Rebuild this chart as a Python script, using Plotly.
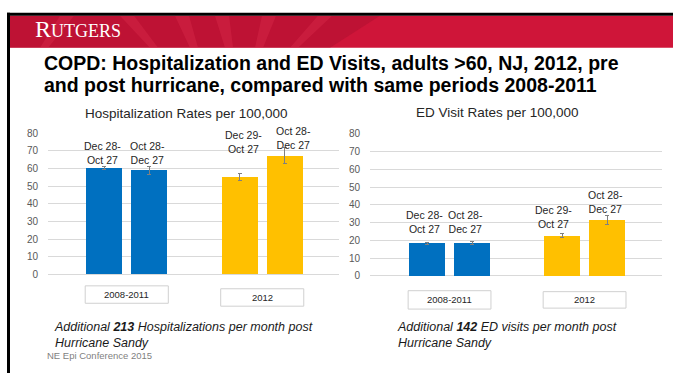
import plotly.graph_objects as go

# ---- data -------------------------------------------------------------
groups = ["2008-2011", "2012"]
period_labels = [["Dec 28-<br>Oct 27", "Oct 28-<br>Dec 27"],
                 ["Dec 29-<br>Oct 27", "Oct 28-<br>Dec 27"]]

hosp_rates = [60.2, 58.9, 55.1, 67.2]
hosp_err = [1.0, 2.3, 2.1, 4.6]
ed_rates = [18.4, 18.4, 22.7, 31.5]
ed_err = [0.5, 1.0, 1.0, 2.6]

y_ticks = [0, 10, 20, 30, 40, 50, 60, 70, 80]

title_lines = ["COPD: Hospitalization and ED Visits, adults &gt;60, NJ, 2012, pre",
               "and post hurricane, compared with same periods 2008-2011"]

# ---- style / layout constants ----------------------------------------
W, H = 673, 379
BLUE, GOLD = "#0070C0", "#FFC000"
SCARLET = "#CF1539"
FONT = "Arial, Liberation Sans, sans-serif"
bar_colors = [BLUE, BLUE, GOLD, GOLD]

# slot index of each bar: two bars per group, one empty slot between groups
slots = [g * 3 + p for g in range(2) for p in range(2)]


def px(x):
    return x / W


def py(y):
    return 1 - y / H


fig = go.Figure()

panels = [
    dict(vals=hosp_rates, err=hosp_err, xa="x", ya="y",
         title="Hospitalization Rates per 100,000",
         xdom=(48, 339), ydom=(277, 131.5), xr=(-1.244, 5.2),
         label_y=[68.6, 68.6, 74.9, 77.1], label_dx=[-0.04, -0.03, 0.08, 0.2],
         box_y=[(289, 307), (292, 310)], title_y=110.5, title_x=186),
    dict(vals=ed_rates, err=ed_err, xa="x2", ya="y2",
         title="ED Visit Rates per 100,000",
         xdom=(370, 662), ydom=(278.7, 132), xr=(-1.267, 5.22),
         label_y=[30.6, 30.6, 33.1, 41.5], label_dx=[-0.05, -0.15, -0.19, -0.04],
         box_y=[(294, 313), (295, 312)], title_y=109.5, title_x=497),
]

shapes = []
annotations = []

for i, p in enumerate(panels):
    fig.add_trace(go.Bar(
        x=slots, y=p["vals"], xaxis=p["xa"], yaxis=p["ya"],
        width=0.8, marker=dict(color=bar_colors, line=dict(width=0)),
        error_y=dict(type="data", array=p["err"], color="#808080",
                     thickness=1, width=2),
        showlegend=False, hoverinfo="skip",
    ))
    suffix = "" if i == 0 else "2"
    fig.layout["xaxis" + suffix] = dict(
        domain=[px(p["xdom"][0]), px(p["xdom"][1])], range=list(p["xr"]),
        showgrid=False, zeroline=False, showticklabels=False, showline=False,
        anchor="y" + suffix, fixedrange=True,
    )
    fig.layout["yaxis" + suffix] = dict(
        domain=[py(p["ydom"][0]), py(p["ydom"][1])], range=[0, 80],
        tickvals=y_ticks, showgrid=True, gridcolor="#D9D9D9", gridwidth=1,
        zeroline=True, zerolinecolor="#D9D9D9", zerolinewidth=1,
        showline=False, ticks="", ticklabelstandoff=9,
        tickfont=dict(family=FONT, size=10, color="#595959"),
        anchor="x" + suffix, fixedrange=True,
    )
    xref = "x" + suffix
    yref = "y" + suffix
    # period labels above the bars
    k = 0
    for g in range(2):
        for q in range(2):
            annotations.append(dict(
                x=slots[k] + p["label_dx"][k], y=p["label_y"][k],
                xref=xref, yref=yref, text=period_labels[g][q],
                showarrow=False, xanchor="center", yanchor="middle",
                font=dict(family=FONT, size=10.5, color="#262626"),
            ))
            k += 1
    # group boxes below the axis
    for g, name in enumerate(groups):
        cx = (slots[2 * g] + slots[2 * g + 1]) / 2
        y0, y1 = p["box_y"][g]
        shapes.append(dict(type="rect", xref=xref, yref="paper",
                           x0=cx - 0.92, x1=cx + 0.92,
                           y0=py(y1), y1=py(y0),
                           line=dict(color="#D0D0D0", width=1),
                           fillcolor="white"))
        annotations.append(dict(x=cx, y=py((y0 + y1) / 2), xref=xref,
                                yref="paper", text=name, showarrow=False,
                                xanchor="center", yanchor="middle",
                                font=dict(family=FONT, size=9.5, color="#262626")))
    # panel title
    annotations.append(dict(x=px(p["title_x"]), y=py(p["title_y"]),
                            xref="paper", yref="paper", text=p["title"],
                            showarrow=False, xanchor="center", yanchor="middle",
                            font=dict(family=FONT, size=13.5, color="#262626")))

# ---- slide header ----------------------------------------------------
shapes += [
    dict(type="rect", xref="paper", yref="paper", x0=px(7), x1=1,
         y0=py(43), y1=py(10), fillcolor=SCARLET, line=dict(width=0), layer="below"),
    dict(type="rect", xref="paper", yref="paper", x0=px(7), x1=1,
         y0=py(10), y1=py(7), fillcolor="black", line=dict(width=0)),
    dict(type="rect", xref="paper", yref="paper", x0=px(7), x1=px(10),
         y0=0, y1=py(7), fillcolor="black", line=dict(width=0)),
]
# darker seal-like rays on the left part of the banner
shapes.append(dict(type="path", xref="paper", yref="paper",
                   path=f"M {px(10)},{py(10)} L {px(380)},{py(10)} L {px(330)},{py(43)} L {px(10)},{py(43)} Z",
                   fillcolor="#9E0F2A", opacity=0.35, line=dict(width=0), layer="below"))
for x_top, x_bot in [(60, 40), (120, 150), (175, 190), (215, 225), (262, 255), (318, 290)]:
    shapes.append(dict(type="path", xref="paper", yref="paper",
                       path=(f"M {px(x_top)},{py(10)} L {px(x_top + 14)},{py(10)} "
                             f"L {px(x_bot + 8)},{py(43)} L {px(x_bot)},{py(43)} Z"),
                       fillcolor="#E0304F", opacity=0.35, line=dict(width=0),
                       layer="below"))

annotations.append(dict(
    x=px(33), y=py(24), xref="paper", yref="paper", xanchor="left",
    yanchor="middle", showarrow=False,
    text="<span style='font-size:24px'>R</span>UTGERS",
    font=dict(family="Liberation Serif, Times New Roman, serif", size=18,
              color="white"),
))

# slide title, one annotation per line for tighter leading
for line, y in zip(title_lines, [59, 82]):
    annotations.append(dict(
        x=px(42), y=py(y), xref="paper", yref="paper", xanchor="left",
        yanchor="middle", showarrow=False, align="left",
        text=f"<b>{line}</b>",
        font=dict(family=FONT, size=19.5, color="black"),
    ))

# ---- notes under the panels -------------------------------------------
annotations.append(dict(
    x=px(52), y=py(340), xref="paper", yref="paper", xanchor="left",
    yanchor="middle", showarrow=False, align="left",
    text="<i>Additional <b>213</b> Hospitalizations per month post<br>Hurricane Sandy</i>",
    font=dict(family=FONT, size=12.5, color="#1A1A1A"),
))
annotations.append(dict(
    x=px(395), y=py(340), xref="paper", yref="paper", xanchor="left",
    yanchor="middle", showarrow=False, align="left",
    text="<i>Additional <b>142</b> ED visits per month post<br>Hurricane Sandy</i>",
    font=dict(family=FONT, size=12.5, color="#1A1A1A"),
))
annotations.append(dict(
    x=px(45), y=py(361), xref="paper", yref="paper", xanchor="left",
    yanchor="middle", showarrow=False,
    text="NE Epi Conference 2015",
    font=dict(family=FONT, size=9.5, color="#7F7F7F"),
))

fig.update_layout(
    width=W, height=H, margin=dict(l=0, r=0, t=0, b=0),
    paper_bgcolor="white", plot_bgcolor="white",
    shapes=shapes, annotations=annotations, bargap=0,
)

fig.write_html("out.html", config={"displayModeBar": False})
